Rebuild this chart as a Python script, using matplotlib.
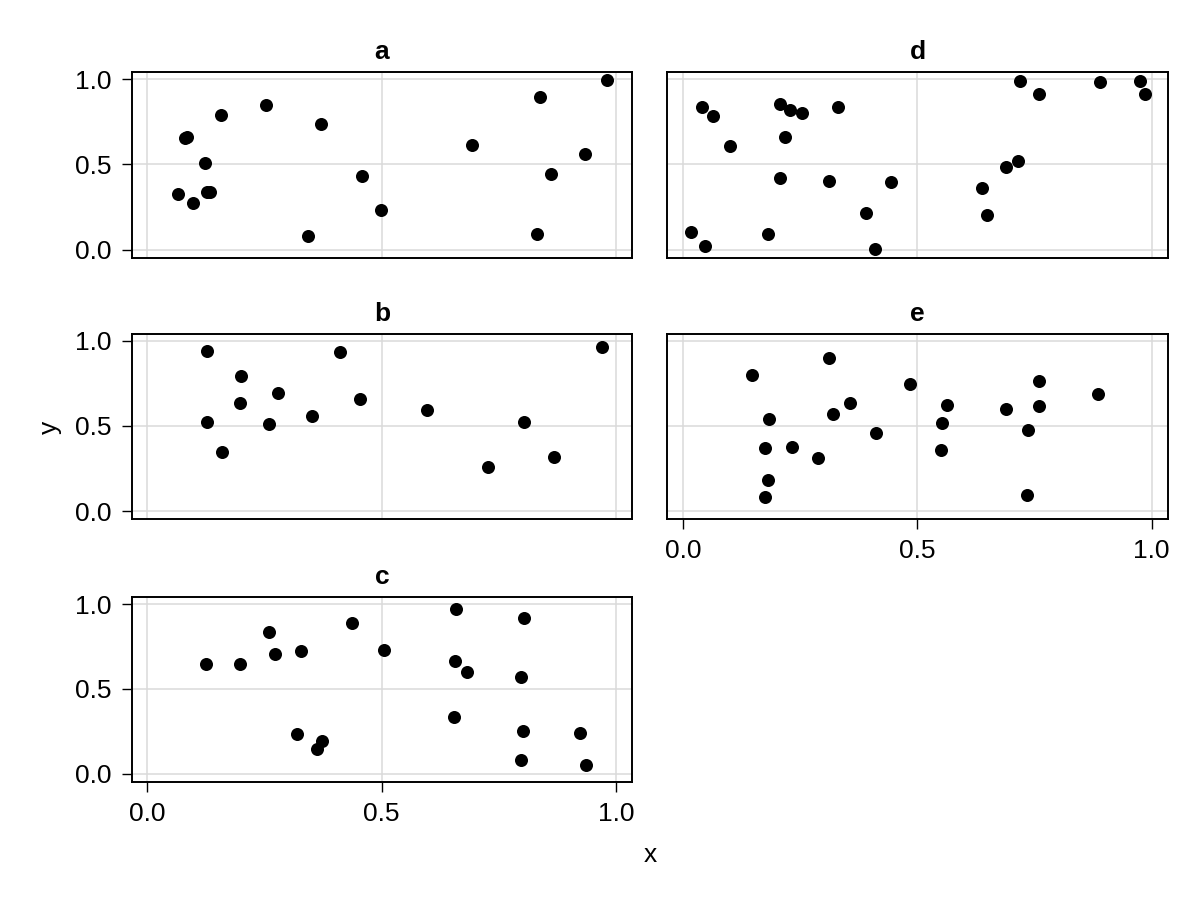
import matplotlib
matplotlib.use("Agg")
import matplotlib.pyplot as plt

plt.rcParams['font.family'] = ['Liberation Sans', 'DejaVu Sans']

# panel a
a_x = [0.982, 0.839, 0.253, 0.157, 0.370, 0.080, 0.085, 0.693, 0.935, 0.123, 0.459,
       0.861, 0.065, 0.127, 0.134, 0.097, 0.499, 0.344, 0.832]
a_y = [0.996, 0.894, 0.849, 0.789, 0.736, 0.656, 0.662, 0.616, 0.560, 0.509, 0.431,
       0.442, 0.325, 0.337, 0.337, 0.272, 0.235, 0.078, 0.092]

# panel b
b_x = [0.127, 0.411, 0.970, 0.200, 0.280, 0.198, 0.453, 0.351, 0.597, 0.128, 0.259,
       0.804, 0.159, 0.868, 0.727]
b_y = [0.941, 0.933, 0.963, 0.792, 0.694, 0.635, 0.661, 0.559, 0.592, 0.524, 0.510,
       0.524, 0.345, 0.316, 0.261]

# panel c
c_x = [0.659, 0.804, 0.259, 0.437, 0.506, 0.272, 0.329, 0.126, 0.198, 0.656, 0.683,
       0.797, 0.654, 0.319, 0.372, 0.363, 0.802, 0.923, 0.797, 0.937]
c_y = [0.974, 0.917, 0.838, 0.891, 0.731, 0.708, 0.727, 0.650, 0.650, 0.666, 0.603,
       0.569, 0.334, 0.237, 0.192, 0.148, 0.251, 0.243, 0.083, 0.051]

# panel d
d_x = [0.719, 0.891, 0.975, 0.986, 0.760, 0.041, 0.064, 0.207, 0.228, 0.255, 0.332,
       0.218, 0.100, 0.714, 0.690, 0.207, 0.311, 0.445, 0.638, 0.648, 0.391, 0.017,
       0.048, 0.182, 0.411]
d_y = [0.988, 0.984, 0.988, 0.916, 0.914, 0.840, 0.785, 0.853, 0.818, 0.802, 0.838,
       0.659, 0.607, 0.521, 0.487, 0.419, 0.403, 0.397, 0.364, 0.205, 0.213, 0.106,
       0.020, 0.090, 0.002]

# panel e
e_x = [0.312, 0.148, 0.484, 0.759, 0.886, 0.357, 0.564, 0.690, 0.759, 0.320, 0.183,
       0.552, 0.412, 0.737, 0.175, 0.234, 0.288, 0.550, 0.181, 0.175, 0.734]
e_y = [0.898, 0.802, 0.745, 0.765, 0.690, 0.637, 0.625, 0.600, 0.618, 0.571, 0.539,
       0.520, 0.461, 0.475, 0.373, 0.378, 0.312, 0.357, 0.184, 0.080, 0.096]

ticks = [0.0, 0.5, 1.0]
tick_labels = ["0.0", "0.5", "1.0"]

W, H = 1200, 900

def rect(left, top, right, bottom):
	return [left / W, 1 - bottom / H, (right - left) / W, (bottom - top) / H]

# (name, xs, ys, rect, show x ticks, show y ticks)
panels = [
	("a", a_x, a_y, rect(131.7, 72.3, 632.3, 257.7), False, True),
	("b", b_x, b_y, rect(131.7, 334.0, 632.3, 519.0), False, True),
	("c", c_x, c_y, rect(131.7, 597.3, 632.3, 781.7), True, True),
	("d", d_x, d_y, rect(667.3, 72.3, 1168.0, 257.7), False, False),
	("e", e_x, e_y, rect(667.3, 334.0, 1168.0, 519.0), True, False),
]

fs = 19

fig = plt.figure(figsize=(12, 9), dpi=100)

for name, xs, ys, r, showx, showy in panels:
	ax = fig.add_axes(r)
	ax.scatter(xs, ys, s=88, color='black', linewidths=0, zorder=3)
	ax.set_xlim(-0.033, 1.035)
	ax.set_ylim(-0.047, 1.041)
	ax.set_xticks(ticks)
	ax.set_yticks(ticks)
	ax.grid(True, color='#dadada', linewidth=1.1, zorder=0)
	ax.set_axisbelow(True)
	for sp in ax.spines.values():
		sp.set_linewidth(1.4)
	ax.tick_params(axis='both', direction='out', length=7.2, width=1.0, pad=7.5, labelsize=fs)
	if showx:
		ax.set_xticklabels(tick_labels)
	else:
		ax.tick_params(axis='x', length=0, labelbottom=False)
	if showy:
		ax.set_yticklabels(tick_labels)
	else:
		ax.tick_params(axis='y', length=0, labelleft=False)
	ax.set_title(name, fontsize=fs, fontweight='bold', pad=9.6)

fig.text(650 / W, 1 - 861.7 / H, "x", ha='center', va='baseline', fontsize=fs)
fig.text(50 / W, 1 - 427 / H, "y", ha='center', va='center', rotation=90, fontsize=fs)

fig.savefig("out.png", dpi=100)
